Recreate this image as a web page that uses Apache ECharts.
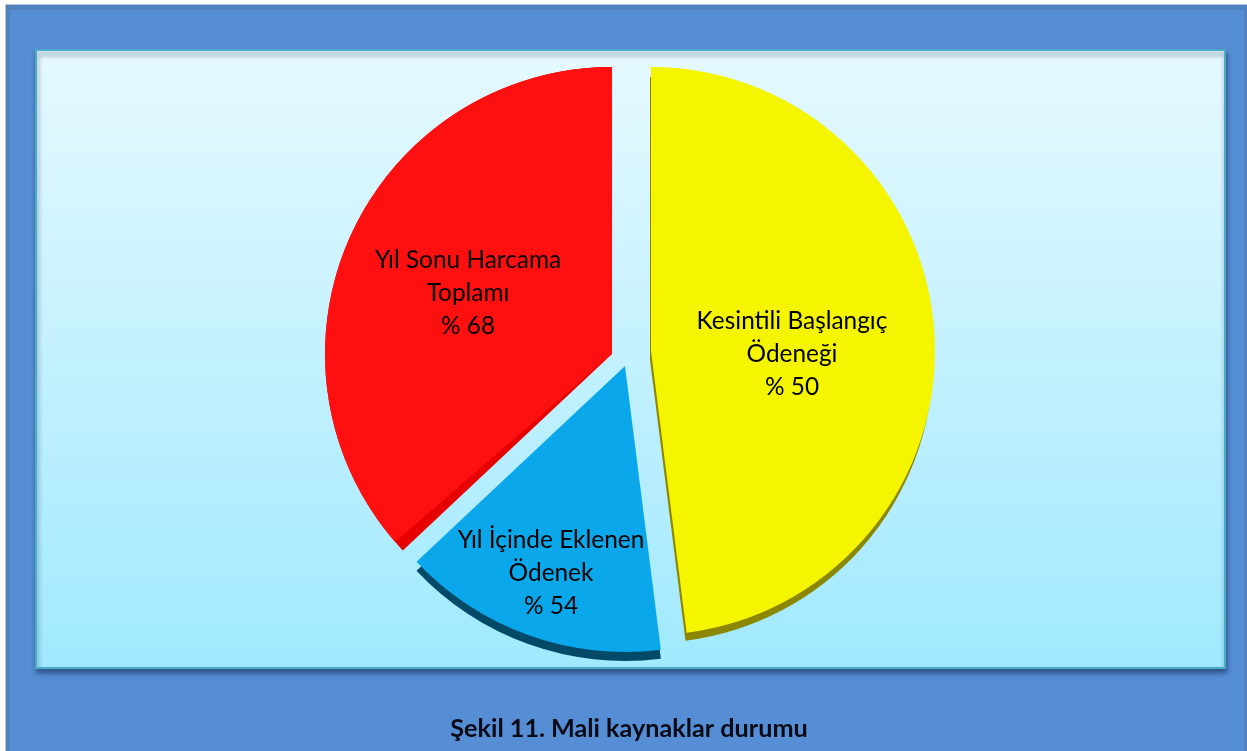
<!DOCTYPE html>
<html>
<head>
<meta charset="utf-8">
<style>html,body{margin:0;padding:0;background:#fff}#c{width:1247px;height:751px}</style>
<script src="https://cdn.jsdelivr.net/npm/echarts@6/dist/echarts.min.js"></script>
</head>
<body>
<div id="c"></div>
<script>
const categories = ['Kesintili Başlangıç\nÖdeneği', 'Yıl İçinde Eklenen\nÖdenek', 'Yıl Sonu Harcama\nToplamı'];
const sliceShares = [48, 15, 37];
const printedPercents = [50, 54, 68];
const chartTitle = 'Şekil 11. Mali kaynaklar durumu';

const FONT = 'Lato, "Open Sans", sans-serif';
const chart = echarts.init(document.getElementById('c'), null, {renderer: 'canvas'});

function sliceStart(i) {
  let s = 0;
  for (let k = 0; k < i; k++) s += sliceShares[k];
  return s * 3.6;
}
function layer(i, cx, cy, r, color, z, opts) {
  opts = opts || {};
  const a0 = sliceStart(i) + (opts.trim || 0);
  const a1 = sliceStart(i) + sliceShares[i] * 3.6;
  const s = {
    type: 'pie', silent: true, animation: false, z: z,
    center: [cx, cy], radius: [0, r],
    startAngle: 90 - a0, endAngle: 90 - a1,
    clockwise: true, avoidLabelOverlap: false,
    itemStyle: {color: color},
    emphasis: {disabled: true},
    labelLine: {show: false},
    label: {show: false},
    data: [{name: categories[i], value: sliceShares[i]}]
  };
  if (opts.label) {
    s.label = {
      show: true, position: 'inside', color: '#000', fontFamily: FONT,
      fontSize: 24.4, lineHeight: 33, align: 'center',
      formatter: categories[i] + '\n% ' + printedPercents[i]
    };
    s.labelLayout = {x: opts.label[0], y: opts.label[1], align: 'center', verticalAlign: 'middle'};
  }
  return s;
}

const series = [
  // yellow: side wall, then top face
  layer(0, 650, 360, 283, '#8c8700', 2),
  layer(0, 651, 351, 284, '#f5f500', 3, {label: [792, 354]}),
  // blue: side wall, then top face
  layer(1, 625, 375, 286, '#034a68', 2),
  layer(1, 625, 366, 286, '#0aa8ea', 3, {label: [551, 573]}),
  // red: darker bevel along the cut edge, then top face
  layer(2, 612, 354, 287, '#e60000', 2),
  layer(2, 612, 354, 287, '#ff1010', 3, {trim: 2.3}),
  layer(2, 612, 338, 271, '#ff1010', 3, {label: [468, 293]})
];

chart.setOption({
  animation: false,
  title: {
    text: chartTitle, left: 624, top: 711, textAlign: 'center',
    textStyle: {fontFamily: FONT, fontWeight: 'bold', fontSize: 25.2, color: '#0a0a14'}
  },
  graphic: [
    {type: 'rect', silent: true, z: -10, shape: {x: 5, y: 4, width: 1242, height: 747}, style: {fill: '#b8c6dc'}},
    {type: 'rect', silent: true, z: -9, shape: {x: 6, y: 5, width: 1241, height: 746}, style: {fill: '#4f81bd'}},
    {type: 'rect', silent: true, z: -8, shape: {x: 10, y: 10, width: 1234, height: 741}, style: {fill: '#558ed5'}},
    {type: 'rect', silent: true, z: -7, shape: {x: 36, y: 50, width: 1189, height: 618},
      style: {
        fill: new echarts.graphic.LinearGradient(0, 0, 0, 1, [
          {offset: 0, color: '#e6f9ff'}, {offset: 1, color: '#a0e9ff'}
        ]),
        stroke: '#4bacc6', lineWidth: 2,
        shadowBlur: 5, shadowOffsetX: 1, shadowOffsetY: 4, shadowColor: 'rgba(20,40,80,0.55)'
      }}
  ],
  series: series
});
</script>
</body>
</html>
